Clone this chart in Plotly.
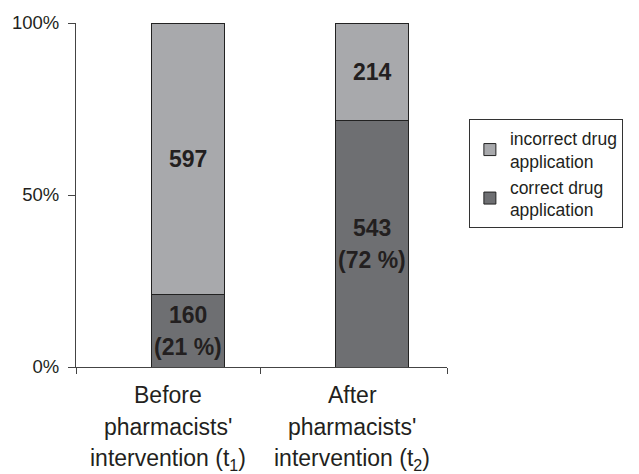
import plotly.graph_objects as go

categories = ["Before<br>pharmacists'<br>intervention (t<sub>1</sub>)",
              "After<br>pharmacists'<br>intervention (t<sub>2</sub>)"]
series_names = ["correct drug<br>application", "incorrect drug<br>application"]
correct = [160, 543]
incorrect = [597, 214]
correct_labels = ["160<br>(21 %)", "543<br>(72 %)"]
incorrect_labels = ["597", "214"]
y_tickvals = [0, 50, 100]
y_ticktext = ["0%", "50%", "100%"]

colors = ["#6e6f72", "#a8a9ac"]
txt = "#231f20"
xs = list(range(len(categories)))

fig = go.Figure()
for name, vals, col in zip(series_names, [correct, incorrect], colors):
    fig.add_trace(go.Bar(x=xs, y=vals, name=name, width=0.395,
                         marker=dict(color=col, line=dict(color="#222", width=1)),
                         hoverinfo="skip"))

# bar labels
ann = []
for i in xs:
    tot = correct[i] + incorrect[i]
    segs = [(correct[i] / tot * 100 / 2, correct_labels[i]),
            ((correct[i] + incorrect[i] / 2) / tot * 100, incorrect_labels[i])]
    for ymid, lab in segs:
        lines = lab.split("<br>")
        n = len(lines)
        for k, line in enumerate(lines):
            ann.append(dict(x=i, y=ymid, xref="x", yref="y", text="<b>" + line + "</b>",
                            showarrow=False, yanchor="middle",
                            yshift=(n - 1) * 16 - k * 32,
                            font=dict(size=23, color=txt, family="Liberation Sans, Arial")))
    # category labels (centred in the category band, which is offset from the bar)
    for k, line in enumerate(categories[i].split("<br>")):
        ann.append(dict(x=i, y=0, xref="x", yref="paper", text=line, showarrow=False,
                        yanchor="middle", yshift=-28 - k * 32, xshift=-20,
                        font=dict(size=23, color=txt, family="Liberation Sans, Arial")))

fig.update_layout(
    width=639, height=474,
    margin=dict(l=75, r=192, t=21, b=107),
    paper_bgcolor="white", plot_bgcolor="white",
    barmode="stack", barnorm="percent",
    showlegend=True,
    legend=dict(x=1.059, xanchor="left", y=0.72, yanchor="top",
                traceorder="reversed", bordercolor="#333", borderwidth=1,
                font=dict(size=17.5, color=txt, family="Liberation Sans, Arial"),
                bgcolor="white"),
    annotations=ann,
    font=dict(family="Liberation Sans, Arial", color=txt),
)
fig.update_xaxes(range=[-0.605, 1.405], tickmode="array",
                 tickvals=[-0.605, 0.395, 1.405], showticklabels=False,
                 ticks="outside", ticklen=6, tickcolor="#444",
                 showline=True, linecolor="#444", linewidth=1,
                 showgrid=False, zeroline=False, fixedrange=True)
fig.update_yaxes(range=[0, 100], tickmode="array", tickvals=y_tickvals, ticktext=y_ticktext,
                 ticks="outside", ticklen=7, tickcolor="#444", ticklabelstandoff=5,
                 showline=True, linecolor="#444", linewidth=1,
                 showgrid=False, zeroline=False,
                 tickfont=dict(size=18.5, color=txt, family="Liberation Sans, Arial"))

fig.write_html("out.html")
